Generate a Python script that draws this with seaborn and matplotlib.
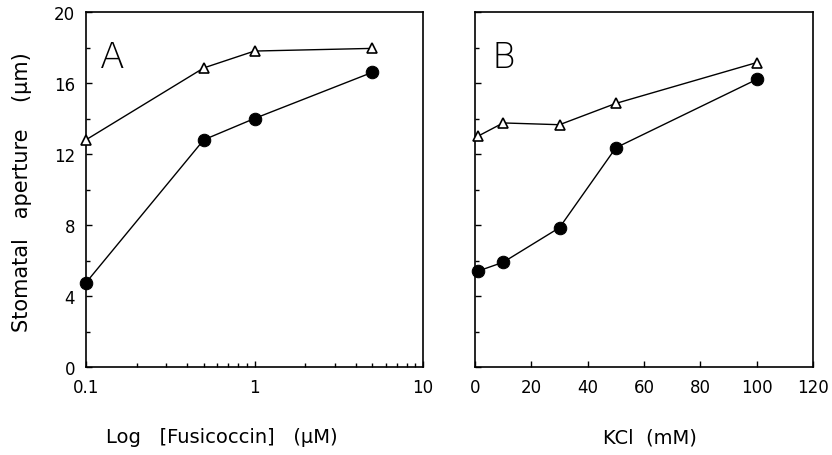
import matplotlib
matplotlib.use("Agg")
import matplotlib.pyplot as plt
import pandas as pd
import seaborn as sns

# Panel A: fusicoccin concentration (uM), log scale
fc_conc = [0.1, 0.5, 1, 5]
fc_open = [12.8, 16.85, 17.8, 17.95]     # open triangles
fc_closed = [4.75, 12.8, 14.0, 16.6]     # filled circles

# Panel B: KCl concentration (mM)
kcl_conc = [1, 10, 30, 50, 100]
kcl_open = [13.0, 13.75, 13.65, 14.85, 17.15]
kcl_closed = [5.4, 5.9, 7.85, 12.35, 16.2]

y_ticks = [0, 4, 8, 12, 16, 20]

sns.set_style("white")
plt.rcParams['font.family'] = ['DejaVu Sans']
plt.rcParams['text.color'] = 'black'
plt.rcParams['xtick.color'] = 'black'
plt.rcParams['ytick.color'] = 'black'

fig = plt.figure(figsize=(8.32, 4.56), dpi=100)
ax_a = fig.add_axes([86/832, 88/456, 337/832, 355/456])
ax_b = fig.add_axes([475/832, 88/456, 338/832, 355/456])

STYLE_OPEN = dict(marker='^', markersize=7.5, markerfacecolor='white',
                  markeredgecolor='black', markeredgewidth=1.2, color='black',
                  linewidth=1.0, clip_on=False, zorder=3)
STYLE_CLOSED = dict(marker='o', markersize=9, markerfacecolor='black',
                    markeredgecolor='black', color='black', linewidth=1.0,
                    clip_on=False, zorder=3)


def draw_panel(ax, x, y_open, y_closed):
    df_open = pd.DataFrame({'x': x, 'y': y_open})
    df_closed = pd.DataFrame({'x': x, 'y': y_closed})
    sns.lineplot(data=df_open, x='x', y='y', ax=ax, **STYLE_OPEN)
    sns.lineplot(data=df_closed, x='x', y='y', ax=ax, **STYLE_CLOSED)
    ax.set_xlabel('')
    ax.set_ylabel('')
    ax.set_ylim(0, 20)
    ax.set_yticks(y_ticks)
    ax.set_yticks(range(2, 20, 4), minor=True)
    for s in ax.spines.values():
        s.set_linewidth(1.2)
        s.set_color('black')
        s.set_visible(True)
    ax.tick_params(which='both', direction='in', bottom=True, left=True,
                   top=False, right=False, labelsize=12, pad=8,
                   color='black', labelcolor='black', width=1.0)
    ax.tick_params(which='major', length=4)
    ax.tick_params(which='minor', length=3)


draw_panel(ax_a, fc_conc, fc_open, fc_closed)
ax_a.set_xscale('log')
ax_a.set_xlim(0.1, 10)
ax_a.set_xticks([0.1, 1, 10])
ax_a.set_xticklabels(['0.1', '1', '10'])
ax_a.set_yticklabels([str(t) for t in y_ticks])
ax_a.tick_params(which='both', direction='in', bottom=True, left=True)

draw_panel(ax_b, kcl_conc, kcl_open, kcl_closed)
ax_b.set_xlim(0, 120)
ax_b.set_xticks(range(0, 121, 20))
ax_b.set_yticklabels([])

ax_a.text(0.04, 0.92, 'A', transform=ax_a.transAxes, fontsize=26,
          fontweight='light', va='top', ha='left')
ax_b.text(0.05, 0.92, 'B', transform=ax_b.transAxes, fontsize=26,
          fontweight='light', va='top', ha='left')

fig.text(22/832, 1 - 192/456, 'Stomatal   aperture    (\u03bcm)', rotation=90,
         ha='center', va='center', fontsize=15)
fig.text(222/832, 1 - 438/456, 'Log   [Fusicoccin]   (\u03bcM)',
         ha='center', va='center', fontsize=14)
fig.text(650/832, 1 - 438/456, 'KCl  (mM)', ha='center', va='center', fontsize=14)

fig.savefig('out.png', dpi=100)
